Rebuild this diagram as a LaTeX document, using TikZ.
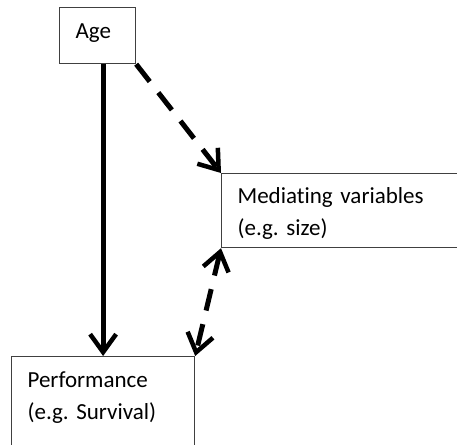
\documentclass[tikz,border=0pt]{standalone}
\usepackage{fontspec}
\setmainfont[Ligatures={NoCommon}]{Carlito}
\usetikzlibrary{arrows.meta}
\frenchspacing
\begin{document}
\begin{tikzpicture}[x=1pt,y=-1pt,
  >={Straight Barb[length=18pt,width=26pt,line width=4.5pt]},
  box/.style={draw=black!75, line width=1.2pt, rectangle, anchor=north west,
    align=left, inner ysep=0pt, inner xsep=16pt,
    font=\fontsize{23pt}{31.5pt}\selectfont},
  solidarrow/.style={line width=5pt, ->},
  dasharrow/.style={line width=5pt, dash pattern=on 22pt off 14pt, ->},
  dashboth/.style={line width=5pt, dash pattern=on 22pt off 14pt, <->}
]
\useasboundingbox (0,0) rectangle (457,444);
\clip (0,0) rectangle (457,444);
\node[box, text width=44pt, text height=31pt, text depth=25pt] (Age) at (59,7) {Age};
\node[box, text width=300pt, text height=30pt, text depth=44pt] (Med) at (221,173) {Mediating variables\\(e.g. size)};
\node[box, text width=151pt, text height=31pt, text depth=100pt] (Perf) at (11,356) {Performance\\(e.g. Survival)};
\draw[solidarrow] (Perf.north |- Age.south) -- (Perf.north);
\draw[dasharrow] (Age.south east) -- (Med.north west);
\draw[dashboth] (Med.south west) -- (Perf.north east);
\end{tikzpicture}
\end{document}
